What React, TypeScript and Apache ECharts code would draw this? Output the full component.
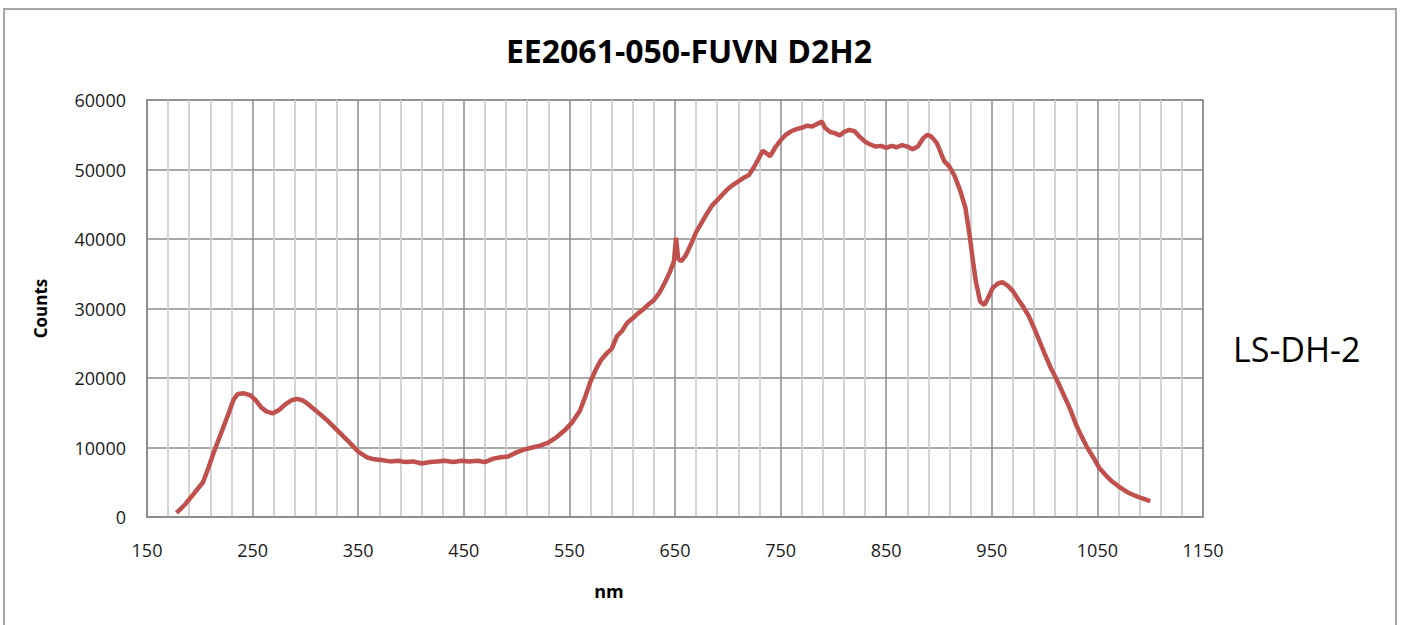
import React, { useEffect, useRef } from "react";
import * as echarts from "echarts";

const chartTitle = "EE2061-050-FUVN D2H2";
const xTitle = "nm";
const yTitle = "Counts";
const sideLabel = "LS-DH-2";
const xMinNm = 150;
const xMaxNm = 1150;

const wavelengths = [
  178, 186, 194, 203, 208, 213, 218, 223, 228, 232, 236, 242, 248, 253, 258, 263, 269, 275, 281, 287,
  292, 297, 302, 310, 320, 330, 340, 350, 358, 365, 372, 380, 388, 395, 402, 410, 418, 425, 432, 440,
  448, 455, 463, 470, 478, 485, 492, 500, 507, 515, 523, 530, 538, 545, 552, 560, 565, 570, 575, 580,
  585, 590, 595, 600, 605, 610, 615, 620, 625, 630, 635, 640, 645, 649, 651, 653, 656, 660, 665, 670,
  675, 680, 685, 690, 695, 700, 705, 710, 715, 720, 725, 730, 733, 737, 740, 745, 750, 755, 760, 765,
  770, 775, 780, 784, 789, 792, 797, 802, 806, 810, 815, 820, 825, 830, 835, 840, 845, 850, 855, 860,
  865, 870, 875, 880, 885, 889, 893, 898, 902, 905, 910, 915, 920, 925, 929, 932, 935, 939, 943, 947,
  951, 956, 960, 965, 970, 975, 980, 985, 990, 996, 1000, 1006, 1012, 1018, 1024, 1030, 1035, 1040, 1046, 1052,
  1058, 1064, 1071, 1078, 1085, 1092, 1100,
];

const counts = [
  600, 1800, 3300, 5000, 7000, 9200, 11200, 13200, 15200, 16900, 17700, 17800, 17500, 16800, 15800, 15200, 14900, 15400, 16200, 16800,
  17000, 16800, 16300, 15300, 14000, 12500, 11000, 9400, 8600, 8300, 8200, 8000, 8100, 7900, 8000, 7700, 7900, 8000, 8100, 7900,
  8100, 8000, 8100, 7900, 8400, 8600, 8700, 9300, 9700, 10000, 10300, 10700, 11500, 12400, 13500, 15300, 17300, 19500, 21200, 22600,
  23500, 24200, 26000, 26800, 28000, 28600, 29300, 29900, 30600, 31200, 32200, 33600, 35200, 36800, 40200, 37200, 36800, 37600, 39200, 41000,
  42300, 43600, 44800, 45600, 46400, 47200, 47800, 48300, 48800, 49200, 50400, 51800, 52700, 52300, 51900, 53200, 54200, 55000, 55500, 55800,
  56000, 56300, 56200, 56500, 56900, 56000, 55400, 55200, 54900, 55400, 55700, 55500, 54700, 54000, 53600, 53300, 53400, 53100, 53400, 53200,
  53500, 53300, 52900, 53300, 54500, 55000, 54700, 53800, 52300, 51200, 50400, 49000, 47000, 44500, 40500, 37000, 33800, 31000, 30500, 31700,
  33000, 33600, 33800, 33300, 32500, 31300, 30200, 28900, 27200, 25000, 23500, 21400, 19600, 17600, 15600, 13200, 11600, 10100, 8600, 7000,
  6000, 5100, 4300, 3600, 3100, 2700, 2300,
];

const FONT = "'Open Sans', 'Liberation Sans', sans-serif";

export default function App() {
  const ref = useRef<HTMLDivElement>(null);

  useEffect(() => {
    if (!ref.current) return;
    const chart = echarts.init(ref.current, undefined, { renderer: "svg" });
    const data = wavelengths.map((w, i) => [w - xMinNm, counts[i]]);
    chart.setOption({
      animation: false,
      backgroundColor: "#ffffff",
      grid: {
        left: 147,
        top: 100,
        width: 1056,
        height: 417,
        show: true,
        borderColor: "#8c8c8c",
        borderWidth: 1.5,
      },
      xAxis: {
        type: "value",
        min: 0,
        max: xMaxNm - xMinNm,
        interval: 100,
        axisLine: { show: true, lineStyle: { color: "#8c8c8c", width: 1.5 } },
        axisTick: { show: false },
        minorTick: { show: false, splitNumber: 5 },
        minorSplitLine: { show: true, lineStyle: { color: "#cfcfcf", width: 1.8 } },
        splitLine: { show: true, lineStyle: { color: "#8c8c8c", width: 1.5 } },
        axisLabel: {
          margin: 24,
          fontSize: 18,
          fontFamily: FONT,
          color: "#1a1a1a",
          formatter: (v: number) => String(v + xMinNm),
        },
      },
      yAxis: {
        type: "value",
        min: 0,
        max: 60000,
        interval: 10000,
        name: yTitle,
        nameLocation: "middle",
        nameRotate: 90,
        nameGap: 98,
        nameTextStyle: { fontSize: 17, fontWeight: "bold", fontFamily: FONT, color: "#000" },
        axisLine: { show: true, lineStyle: { color: "#8c8c8c", width: 1.5 } },
        axisTick: { show: false },
        splitLine: { show: true, lineStyle: { color: "#8c8c8c", width: 1.5 } },
        axisLabel: {
          margin: 21,
          fontSize: 18,
          fontFamily: FONT,
          color: "#1a1a1a",
          formatter: (v: number) => String(v),
        },
      },
      graphic: [
        {
          type: "rect",
          shape: { x: 4, y: 9, width: 1392, height: 640 },
          style: { fill: "none", stroke: "#a6a6a6", lineWidth: 2 },
          silent: true,
        },
        {
          type: "text",
          x: 689,
          y: 50,
          style: {
            text: chartTitle,
            fontSize: 32,
            fontWeight: "bold",
            fontFamily: FONT,
            fill: "#000",
            align: "center",
            verticalAlign: "middle",
          },
        },
        {
          type: "text",
          x: 609,
          y: 591,
          style: {
            text: xTitle,
            fontSize: 18,
            fontWeight: "bold",
            fontFamily: FONT,
            fill: "#000",
            align: "center",
            verticalAlign: "middle",
          },
        },
        {
          type: "text",
          x: 1233,
          y: 349,
          style: {
            text: sideLabel,
            fontSize: 34,
            fontFamily: FONT,
            fill: "#000",
            align: "left",
            verticalAlign: "middle",
          },
        },
      ],
      series: [
        {
          type: "line",
          data,
          showSymbol: false,
          smooth: false,
          lineStyle: { color: "#c0504d", width: 4.5 },
          itemStyle: { color: "#c0504d" },
        },
      ],
    });
    return () => chart.dispose();
  }, []);

  return (
    <div
      ref={ref}
      style={{ position: "fixed", left: 0, top: 0, width: 1402, height: 625, background: "#fff" }}
    />
  );
}
